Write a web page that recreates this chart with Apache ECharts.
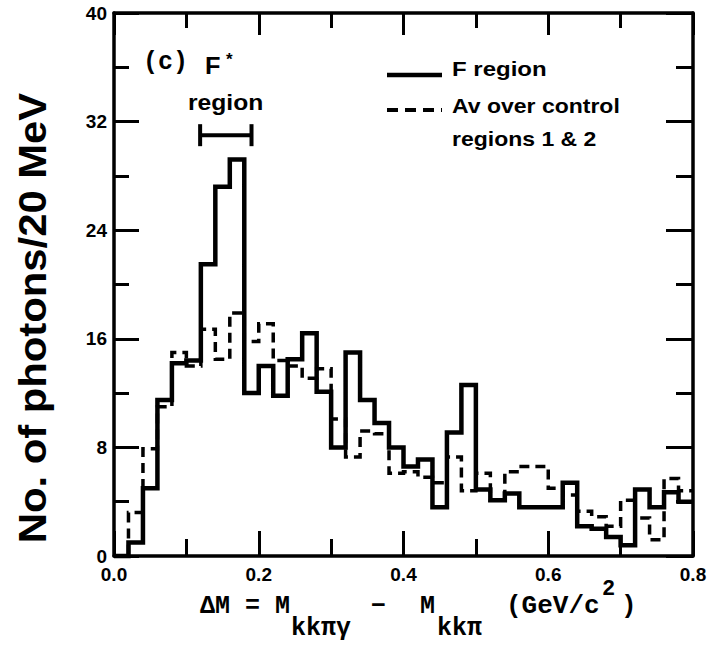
<!DOCTYPE html>
<html><head><meta charset="utf-8">
<script src="https://cdn.jsdelivr.net/npm/echarts@6/dist/echarts.min.js"></script>
<style>html,body{margin:0;padding:0;background:#fff}#c{width:710px;height:654px}</style>
</head><body><div id="c"></div>
<script>
// ---- data ----
const binWidth = 0.02; // GeV/c^2 (20 MeV bins), first bin starts at 0.0
const fRegion = [0, 1, 5, 11.5, 14.2, 14.4, 21.5, 27.2, 29.2, 12,
                 14, 11.8, 14.5, 16.4, 12.1, 8.0, 15.0, 11.5, 9.8, 8.0,
                 6.6, 7.1, 3.6, 9.1, 12.6, 4.9, 4.1, 4.6, 3.6, 3.6,
                 3.6, 5.4, 2.2, 2.0, 1.4, 0.8, 4.9, 3.6, 4.7, 4.0];
const controlAvg = [0, 3.2, 7.9, 11, 15, 14, 16.7, 14.5, 17.9, 15.8,
                    17.1, 14.4, 14, 13.1, 13.8, 10.1, 7.3, 9.2, 9.0, 6.1,
                    6.2, 5.8, 5.4, 7.3, 4.8, 6.1, 4.1, 6.2, 6.6, 6.6,
                    5.0, 4.5, 3.3, 2.9, 2.2, 4.1, 2.8, 1.2, 5.7, 4.8];
const xTickLabels = ['0.0', '0.2', '0.4', '0.6', '0.8'];
const yTickLabels = ['0', '8', '16', '24', '32', '40'];
const fStarRange = [0.119, 0.19];
const fStarLevel = 31;

function toSteps(vals) {
  const d = vals.map((v, i) => [+(i * binWidth).toFixed(2), v]);
  d.push([+(vals.length * binWidth).toFixed(2), vals[vals.length - 1]]);
  return d;
}

const chart = echarts.init(document.getElementById('c'), null, {renderer: 'svg'});
const BLACK = '#000';
const sans = '"Liberation Sans", Arial, sans-serif';
const mono = '"Liberation Mono", "DejaVu Sans Mono", monospace';

function xAx(pos, majorLen, minorLen, showLabel) {
  return {
    type: 'value', min: 0, max: 0.8, interval: 0.2, position: pos,
    axisLine: {show: true, onZero: false, lineStyle: {color: BLACK, width: 3.5}},
    axisTick: {show: true, inside: true, length: majorLen, lineStyle: {color: BLACK, width: 3}},
    minorTick: {show: true, splitNumber: 2, length: minorLen, lineStyle: {color: BLACK, width: 3}},
    splitLine: {show: false}, minorSplitLine: {show: false},
    axisLabel: {show: showLabel, margin: 9, color: BLACK, fontFamily: sans, fontWeight: 'bold', fontSize: 19,
      formatter: (v) => xTickLabels[Math.round(v / 0.2)]}
  };
}
function yAx(pos, majorLen, minorLen, showLabel) {
  return {
    type: 'value', min: 0, max: 40, interval: 8, position: pos,
    axisLine: {show: true, onZero: false, lineStyle: {color: BLACK, width: 3.5}},
    axisTick: {show: true, inside: true, length: majorLen, lineStyle: {color: BLACK, width: 3}},
    minorTick: {show: true, splitNumber: 2, length: minorLen, lineStyle: {color: BLACK, width: 3}},
    splitLine: {show: false}, minorSplitLine: {show: false},
    axisLabel: {show: showLabel, margin: 7, color: BLACK, fontFamily: sans, fontWeight: 'bold', fontSize: 19,
      formatter: (v) => yTickLabels[Math.round(v / 8)]}
  };
}

const option = {
  backgroundColor: '#fff',
  animation: false,
  grid: {left: 114, right: 17, top: 13, bottom: 98, containLabel: false},
  xAxis: [xAx('bottom', 25, 17, true), xAx('top', 22, 15, false)],
  yAxis: [yAx('left', 25, 15, true), yAx('right', 27, 17, false)],
  series: [
    {name: 'Av over control regions 1 & 2', type: 'line', step: 'end', xAxisIndex: 0, yAxisIndex: 0,
     data: toSteps(controlAvg), symbol: 'none', clip: false, z: 3,
     lineStyle: {color: BLACK, width: 3.5, type: [10, 6], join: 'miter', cap: 'butt'}},
    {name: 'F region', type: 'line', step: 'end', xAxisIndex: 0, yAxisIndex: 0,
     data: toSteps(fRegion), symbol: 'none', clip: false, z: 4,
     lineStyle: {color: BLACK, width: 4.5, type: 'solid', join: 'miter', cap: 'butt'}}
  ]
};
chart.setOption(option);

function txt(text, x, y, size, opts) {
  opts = opts || {};
  return {
    type: 'text', x: x, y: y, scaleX: opts.sx || 1, scaleY: opts.sy || 1, rotation: opts.rot || 0, z: 10,
    style: {text: text, fill: BLACK, fontFamily: opts.family || sans, fontWeight: opts.weight || 'bold',
      fontSize: size, align: opts.align || 'left', verticalAlign: 'middle',
      textAlign: opts.align || 'left', textVerticalAlign: 'middle'}
  };
}

const p0 = chart.convertToPixel({gridIndex: 0}, [fStarRange[0], fStarLevel]);
const p1 = chart.convertToPixel({gridIndex: 0}, [fStarRange[1], fStarLevel]);
const lineStyle = {stroke: BLACK, lineWidth: 4};
const mb = {family: mono, weight: 'bold'};

const graphics = [
  // y axis title
  txt('No. of photons/20 MeV', 33, 318, 38, {rot: Math.PI / 2, align: 'center', sx: 1.1}),
  // x axis title pieces
  txt('\u0394M = M', 200, 606, 25, mb),
  txt('kk\u03c0\u03b3', 291, 628, 25, mb),
  txt('\u2212', 371, 606, 25, mb),
  txt('M', 420, 606, 25, mb),
  txt('kk\u03c0', 437, 628, 25, mb),
  txt('(GeV/c', 506, 606, 26, mb),
  txt('2', 602, 589, 22, mb),
  txt(')', 621, 606, 26, mb),
  // panel annotations
  txt('(c)', 143, 62, 25, mb),
  txt('F', 205, 66, 23, {sx: 1.1}),
  txt('*', 226, 59, 17, {}),
  txt('region', 188, 102, 22, {sx: 1.12}),
  // F* region bracket
  {type: 'line', z: 10, shape: {x1: p0[0], y1: p0[1], x2: p1[0], y2: p1[1]}, style: lineStyle},
  {type: 'line', z: 10, shape: {x1: p0[0], y1: p0[1] - 11, x2: p0[0], y2: p0[1] + 11}, style: lineStyle},
  {type: 'line', z: 10, shape: {x1: p1[0], y1: p1[1] - 11, x2: p1[0], y2: p1[1] + 11}, style: lineStyle},
  // legend
  {type: 'line', z: 10, shape: {x1: 387, y1: 75, x2: 442, y2: 75}, style: {stroke: BLACK, lineWidth: 4.5}},
  {type: 'line', z: 10, shape: {x1: 387, y1: 110, x2: 442, y2: 110}, style: {stroke: BLACK, lineWidth: 4, lineDash: [11, 7]}},
  txt('F region', 452, 69, 20, {sx: 1.2}),
  txt('Av over control', 452, 106, 20, {sx: 1.15}),
  txt('regions 1 & 2', 452, 139, 20, {sx: 1.15})
];
chart.setOption({graphic: graphics});
</script>
</body></html>
